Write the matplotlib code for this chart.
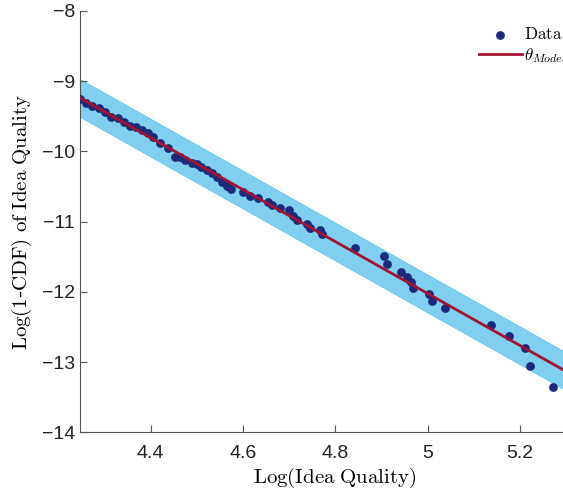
import numpy as np
import matplotlib
matplotlib.use('Agg')
import matplotlib.pyplot as plt

plt.rcParams['mathtext.fontset'] = 'cm'
plt.rcParams['font.family'] = ['Liberation Sans', 'DejaVu Sans']

# Log(idea quality) vs log(1-CDF)
log_quality = [4.247, 4.261, 4.274, 4.288, 4.301, 4.314, 4.329, 4.343, 4.355, 4.368,
               4.381, 4.394, 4.406, 4.420, 4.438, 4.453, 4.463, 4.474, 4.489, 4.500,
               4.510, 4.521, 4.532, 4.543, 4.554, 4.565, 4.574, 4.600, 4.615, 4.633,
               4.655, 4.662, 4.680, 4.700, 4.709, 4.717, 4.738, 4.745, 4.766, 4.770,
               4.843, 4.905, 4.912, 4.941, 4.956, 4.963, 4.968, 5.003, 5.009, 5.037,
               5.136, 5.176, 5.210, 5.221, 5.272]
log_ccdf = [-9.257, -9.318, -9.352, -9.380, -9.446, -9.508, -9.531, -9.588, -9.641, -9.659,
            -9.698, -9.745, -9.793, -9.875, -9.958, -10.086, -10.086, -10.125, -10.172, -10.186,
            -10.220, -10.267, -10.314, -10.362, -10.433, -10.490, -10.537, -10.576, -10.640, -10.670,
            -10.727, -10.765, -10.812, -10.836, -10.917, -10.979, -11.035, -11.097, -11.121, -11.182,
            -11.381, -11.487, -11.600, -11.714, -11.785, -11.857, -11.950, -12.036, -12.127, -12.231,
            -12.473, -12.625, -12.804, -13.056, -13.351]

# fitted model line and its band
slope = -3.70
intercept = 6.474
band_half = 0.27

xlim = (4.247, 5.35)
ylim = (-14, -8)

fig = plt.figure(figsize=(5.63, 4.94), dpi=100)
ax = fig.add_axes([0.142, 0.125, 0.905, 0.853])

xs = np.array(xlim)
fit = intercept + slope * xs
ax.fill_between(xs, fit - band_half, fit + band_half, facecolor='#80CFF0',
                edgecolor='#5CC3EE', linewidth=0.5, zorder=1)
ax.scatter(log_quality, log_ccdf, s=40, color='#1C2A7C', zorder=3, label='Data',
           linewidths=0)
ax.plot(xs, fit, color='#A2142F', linewidth=2, zorder=4, label=r'$\theta_{Model}$')

ax.set_xlim(*xlim)
ax.set_ylim(*ylim)
ax.set_xticks([4.4, 4.6, 4.8, 5.0, 5.2])
ax.set_xticklabels(['4.4', '4.6', '4.8', '5', '5.2'])
ax.set_yticks([-14, -13, -12, -11, -10, -9, -8])
ax.set_yticklabels(['\u221214', '\u221213', '\u221212', '\u221211', '\u221210', '\u22129', '\u22128'])
ax.tick_params(labelsize=14, direction='in', length=5, color='#555555', width=0.8,
               colors='#222222')
ax.tick_params(axis='x', pad=9)
for side in ['top', 'right']:
    ax.spines[side].set_visible(False)
for side in ['left', 'bottom']:
    ax.spines[side].set_color('#555555')
    ax.spines[side].set_linewidth(0.8)

ax.set_xlabel(r'$\mathrm{Log(Idea\ Quality)}$', fontsize=15, labelpad=3)
ax.set_ylabel(r'$\mathrm{Log(1}$-$\mathrm{CDF)\ of\ Idea\ Quality}$', fontsize=15, labelpad=6)

handles, labels = ax.get_legend_handles_labels()
leg = fig.legend(handles, labels, loc='upper left', bbox_to_anchor=(0.851, 0.947),
                 frameon=False, borderpad=0, borderaxespad=0, handlelength=2.5,
                 handletextpad=0.12, labelspacing=0.25, prop={'size': 12.3})
leg.get_texts()[0].set_text(r'$\mathrm{Data}$')

fig.savefig('out.png', dpi=100)
